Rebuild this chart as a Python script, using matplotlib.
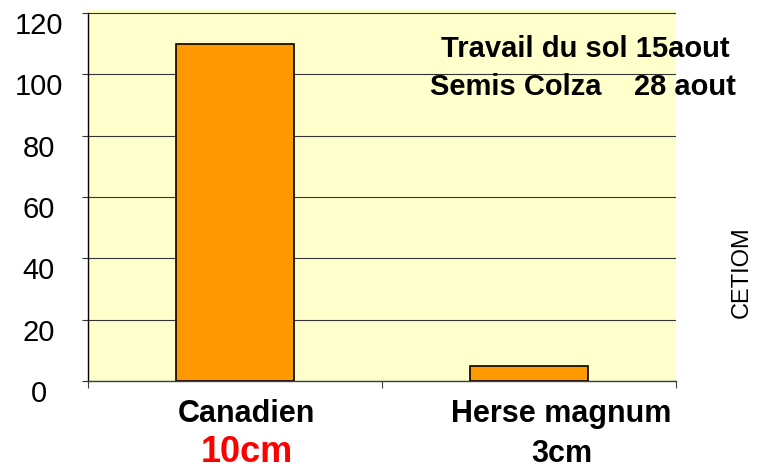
import matplotlib
matplotlib.use('Agg')
import matplotlib.pyplot as plt
from matplotlib.transforms import offset_copy
import numpy as np

# data
outils = ['Canadien', 'Herse magnum']
profondeurs = ['10cm', '3cm']
valeurs = [110, 5]
yticks = [0, 20, 40, 60, 80, 100, 120]

plt.rcParams['font.family'] = ['Liberation Sans', 'DejaVu Sans']

def main():
    fig = plt.figure(figsize=(7.65, 4.69), dpi=100)
    ax = fig.add_axes([88/765, 1-381/469, 588/765, 368/469*121/120])
    ax.set_facecolor('#FFFFCC')

    ind = np.arange(len(outils))
    ax.bar(ind, valeurs, 0.4, color='#FF9900', edgecolor='black', linewidth=1.2, zorder=3)

    ax.set_xlim(-0.5, 1.5)
    ax.set_ylim(0, 121)
    for s in ['top', 'right']:
        ax.spines[s].set_visible(False)
    ax.spines['left'].set_bounds(0, 120)
    ax.spines['left'].set_linewidth(1.0)
    ax.spines['bottom'].set_linewidth(1.0)
    ax.spines['bottom'].set_color('#404040')

    # gridlines
    ax.set_yticks(yticks)
    ax.set_yticklabels([])
    ax.grid(axis='y', color='#333333', linewidth=0.8, zorder=1)
    ax.tick_params(axis='y', length=4, width=0.8, color='#333333', direction='out')
    ax.set_xticks([-0.5, 0.5, 1.5])
    ax.set_xticklabels([])
    ax.tick_params(axis='x', length=5, width=0.8, color='#404040', direction='out')

    # y labels, centered and shifted down a bit
    trans = offset_copy(ax.get_yaxis_transform(), fig=fig, y=-13, units='dots')
    for v in yticks:
        ax.text(-49/588, v, str(v), transform=trans, ha='center', va='center', fontsize=21)

    # category labels
    decal = [0.04, 0.11]
    couleurs = ['red', 'black']
    tailles = [26, 22]
    for i in range(len(outils)):
        ax.text(i + decal[i], 0, outils[i], transform=offset_copy(ax.transData, fig=fig, y=-41, units='dots'),
                ha='center', va='baseline', fontsize=22, fontweight='bold')
        ax.text(i + decal[i], 0, profondeurs[i], transform=offset_copy(ax.transData, fig=fig, y=-81, units='dots'),
                ha='center', va='baseline', fontsize=tailles[i], fontweight='bold', color=couleurs[i])

    fig.text(585/765, 1-49/469, 'Travail du sol 15aout', ha='center', va='center',
             fontsize=21, fontweight='bold')
    fig.text(583/765, 1-87/469, 'Semis Colza    28 aout', ha='center', va='center',
             fontsize=21, fontweight='bold')
    fig.text(742/765, 1-272/469, 'CETIOM', rotation=90, ha='center', va='center', fontsize=17)

    fig.savefig('out.png', dpi=100)

if __name__ == "__main__":
    main()
